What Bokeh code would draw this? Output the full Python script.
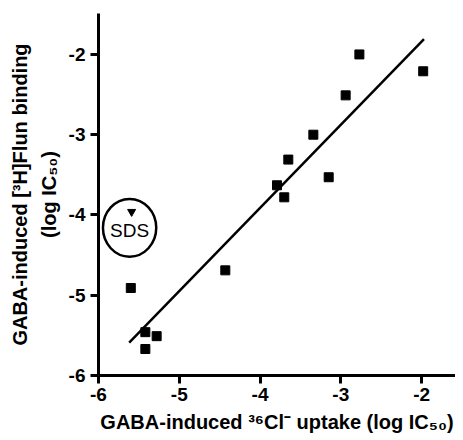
from bokeh.plotting import figure
from bokeh.models import Range1d, FixedTicker
from bokeh.core.properties import value
from bokeh.embed import file_html
from bokeh.resources import INLINE

# data (log IC50)
cl_uptake = [-2.77, -1.98, -2.94, -3.34, -3.65, -3.15, -3.79, -3.70, -4.43, -5.60, -5.42, -5.28, -5.42]
flun_binding = [-2.00, -2.21, -2.51, -3.00, -3.31, -3.53, -3.63, -3.78, -4.69, -4.91, -5.46, -5.51, -5.67]
sds_x = [-5.59]
sds_y = [-3.96]
sds_label = ["SDS"]
fit_x = [-5.62, -1.97]
fit_y = [-5.59, -1.81]
ticks = [-6, -5, -4, -3, -2]
tick_labels = {t: "-%d" % abs(t) for t in ticks}

FONT = "Liberation Sans"

p = figure(width=455, height=436, output_backend="svg", toolbar_location=None,
           x_range=Range1d(-6, -1.58), y_range=Range1d(-6, -1.49),
           min_border_left=98, min_border_top=13, min_border_bottom=61, min_border_right=0)
p.outline_line_color = None
p.grid.grid_line_color = None
p.background_fill_color = "white"

for ax in (p.xaxis[0], p.yaxis[0]):
    ax.ticker = FixedTicker(ticks=ticks)
    ax.major_label_overrides = tick_labels
    ax.axis_line_width = 3
    ax.axis_line_color = "black"
    ax.major_tick_line_width = 3
    ax.major_tick_line_color = "black"
    ax.major_tick_in = 0
    ax.major_tick_out = 8
    ax.minor_tick_line_color = None
    ax.major_label_text_font = FONT
    ax.major_label_text_font_style = "bold"
    ax.major_label_text_font_size = "19px"
    ax.major_label_text_color = "black"
    ax.axis_label_text_font = FONT
    ax.axis_label_text_font_style = "bold"
    ax.axis_label_text_font_size = "20px"
    ax.axis_label_text_color = "black"

p.xaxis.major_label_standoff = 4
p.yaxis.major_label_standoff = 5
p.xaxis.axis_label = "GABA-induced \u00b3\u2076Cl\u207b uptake (log IC\u2085\u2080)"
p.yaxis.axis_label = "GABA-induced [\u00b3H]Flun binding\n(log IC\u2085\u2080)"
p.yaxis.axis_label_text_line_height = 1.3
p.xaxis.axis_label_standoff = 7
p.yaxis.axis_label_standoff = 6

p.line(fit_x, fit_y, line_color="black", line_width=2.5)
p.scatter(cl_uptake, flun_binding, marker="square", size=9, fill_color="black", line_color="black")

# SDS outlier
p.ellipse(x=[-5.615], y=[-4.16], width=0.66, height=0.72, fill_color=None,
          line_color="black", line_width=2.5)
p.scatter(sds_x, sds_y, marker="inverted_triangle", size=8, fill_color="black", line_color="black")
p.text(x=[-5.615], y=[-4.19], text=sds_label, text_font=value(FONT), text_font_size="19px",
       text_align="center", text_baseline="middle", text_color="black")

open("out.html", "w").write(file_html(p, INLINE))
